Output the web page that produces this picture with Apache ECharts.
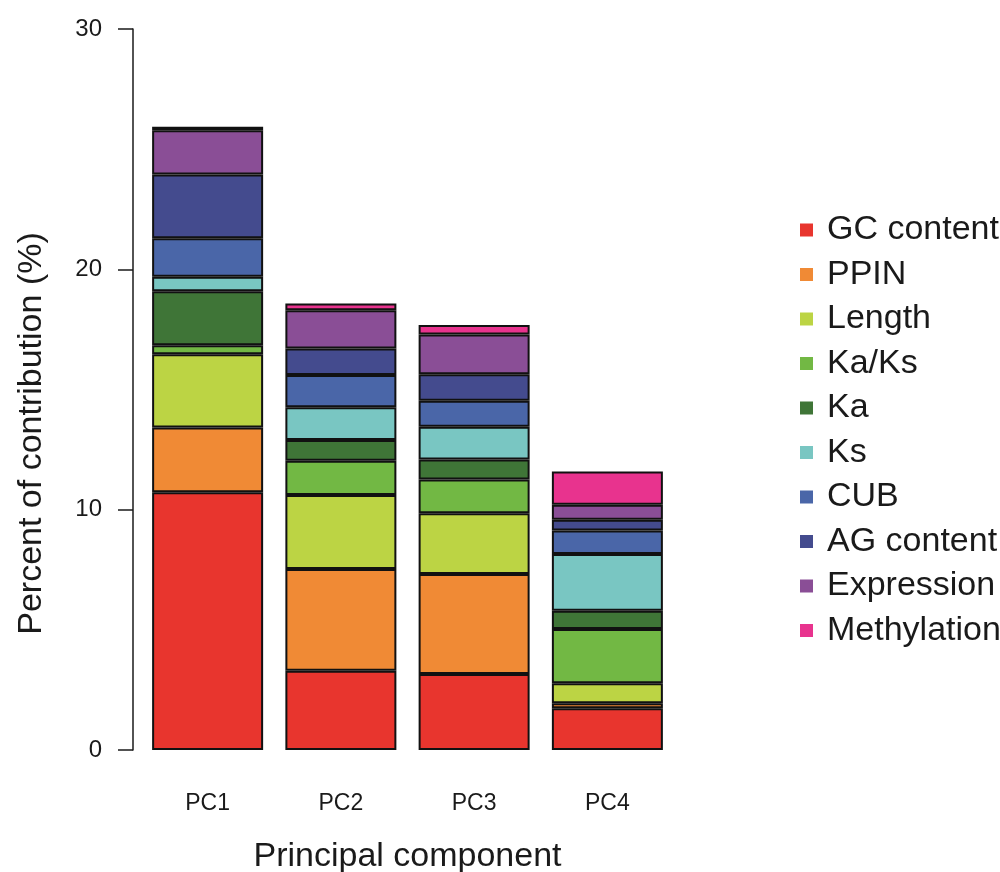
<!DOCTYPE html>
<html>
<head>
<meta charset="utf-8">
<script src="https://cdn.jsdelivr.net/npm/echarts@6/dist/echarts.min.js"></script>
<style>
html,body{margin:0;padding:0;background:#fff;}
#chart{width:1000px;height:872px;}
</style>
</head>
<body>
<div id="chart"></div>
<script>
const categories = ['PC1', 'PC2', 'PC3', 'PC4'];
const seriesNames = ['GC content', 'PPIN', 'Length', 'Ka/Ks', 'Ka', 'Ks', 'CUB', 'AG content', 'Expression', 'Methylation'];
const gcContent   = [10.72, 3.30, 3.16, 1.74];
const ppin        = [2.70, 4.23, 4.16, 0.21];
const lengthVals  = [3.05, 3.08, 2.53, 0.83];
const kaKs        = [0.37, 1.43, 1.41, 2.25];
const ka          = [2.25, 0.86, 0.83, 0.76];
const ks          = [0.60, 1.36, 1.36, 2.37];
const cub         = [1.60, 1.34, 1.08, 0.97];
const agContent   = [2.66, 1.11, 1.10, 0.45];
const expression  = [1.84, 1.59, 1.66, 0.62];
const methylation = [0.14, 0.28, 0.39, 1.39];
const yTicks = [0, 10, 20, 30];

const seriesData = [gcContent, ppin, lengthVals, kaKs, ka, ks, cub, agContent, expression, methylation];
const colors = ['#E8352E', '#F08A35', '#BCD444', '#72B844', '#3F7537', '#79C6C2', '#4A66A8', '#444B8E', '#8A4E96', '#E8338E'];

const chart = echarts.init(document.getElementById('chart'));
const font = 'Liberation Sans, Arial, Helvetica, sans-serif';

chart.setOption({
  backgroundColor: '#ffffff',
  animation: false,
  color: colors,
  textStyle: { fontFamily: font },
  grid: { left: 141, top: 29, width: 533, height: 721, containLabel: false, outerBoundsMode: 'none' },
  legend: {
    orient: 'vertical',
    left: 795,
    top: 208,
    icon: 'rect',
    itemWidth: 13,
    itemHeight: 13,
    itemGap: 10.5,
    itemStyle: { borderWidth: 0 },
    data: seriesNames,
    textStyle: { fontSize: 34, color: '#1a1a1a', fontFamily: font, lineHeight: 34, padding: [0, 0, 0, 9] }
  },
  xAxis: {
    type: 'category',
    data: categories,
    axisLine: { show: false },
    axisTick: { show: false },
    axisLabel: { margin: 42, fontSize: 23, color: '#1a1a1a', fontFamily: font },
    name: 'Principal component',
    nameLocation: 'middle',
    nameGap: 90,
    nameTextStyle: { fontSize: 34, color: '#1a1a1a', fontFamily: font }
  },
  yAxis: {
    type: 'value',
    min: yTicks[0],
    max: yTicks[yTicks.length - 1],
    interval: 10,
    offset: 8,
    axisLine: { show: true, lineStyle: { color: '#1a1a1a', width: 1.5 } },
    axisTick: { show: true, length: 15, lineStyle: { color: '#1a1a1a', width: 1.5 } },
    axisLabel: { margin: 31, fontSize: 24, color: '#1a1a1a', fontFamily: font },
    splitLine: { show: false },
    name: 'Percent of contribution (%)',
    nameLocation: 'middle',
    nameGap: 84,
    nameTextStyle: { fontSize: 34, color: '#1a1a1a', fontFamily: font, padding: [0, 88, 0, 0] }
  },
  series: seriesNames.map((name, i) => ({
    name: name,
    type: 'bar',
    stack: 'total',
    barWidth: 111,
    data: seriesData[i],
    itemStyle: { color: colors[i], borderColor: '#111', borderWidth: 2 }
  }))
});
</script>
</body>
</html>
